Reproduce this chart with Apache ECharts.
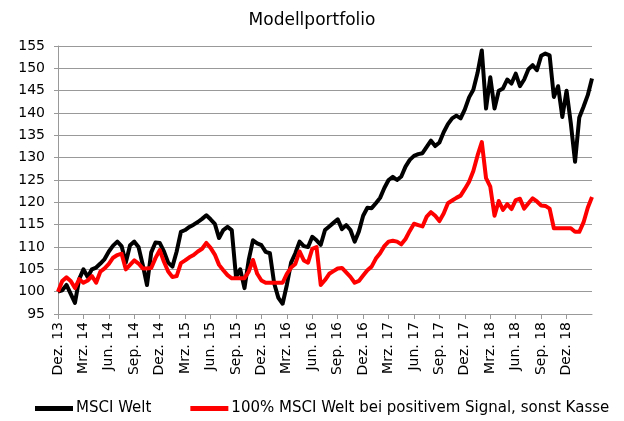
<!DOCTYPE html>
<html>
<head>
<meta charset="utf-8">
<script src="https://cdn.jsdelivr.net/npm/echarts@6/dist/echarts.min.js"></script>
<style>
  html, body { margin: 0; padding: 0; background: #fff; }
  #chart { width: 624px; height: 421px; }
</style>
</head>
<body>
<div id="chart"></div>
<script>
// quarter tick labels, one every 6 half-month points
const quarterLabels = ['Dez. 13', 'Mrz. 14', 'Jun. 14', 'Sep. 14', 'Dez. 14', 'Mrz. 15', 'Jun. 15', 'Sep. 15',
    'Dez. 15', 'Mrz. 16', 'Jun. 16', 'Sep. 16', 'Dez. 16', 'Mrz. 17', 'Jun. 17', 'Sep. 17',
    'Dez. 17', 'Mrz. 18', 'Jun. 18', 'Sep. 18', 'Dez. 18'];

// half-month values, Dez. 13 .. Mrz. 19
const msciWelt = [
    100, 100.3, 101.5, 99.5, 97.5, 102.8, 105, 103.3, 105, 105.4,
    106.3, 107.3, 109, 110.3, 111.2, 110.2, 106.5, 110.4, 111.2, 110,
    106, 101.5, 108.8, 111, 110.9, 109, 106.5, 105.6, 109, 113.4,
    113.8, 114.5, 115, 115.6, 116.3, 117.1, 116.2, 115.2, 112, 113.8,
    114.5, 113.8, 103.3, 105, 100.8, 107.1, 111.5, 110.8, 110.4, 108.9,
    108.6, 101.9, 98.6, 97.3, 101.5, 106.5, 108.6, 111.2, 110.2, 110,
    112.3, 111.5, 110.5, 113.8, 114.6, 115.4, 116.2, 114, 114.9, 113.8,
    111.2, 113.5, 117, 118.8, 118.7, 119.8, 121, 123.2, 125, 125.7,
    125, 125.8, 128, 129.5, 130.4, 130.8, 131, 132.4, 133.8, 132.6,
    133.4, 135.7, 137.5, 138.8, 139.4, 138.8, 140.8, 143.5, 145.2, 149,
    154, 141, 148, 141, 145, 145.5, 147.5, 146.6, 148.8, 146,
    147.5, 149.8, 150.7, 149.6, 152.8, 153.3, 152.9, 143.6, 146, 139.1,
    145, 137.7, 129.1, 139, 141.4, 144, 147.7
];
const msciSignal = [
    100, 102.4, 103.2, 102.4, 100.8, 102.8, 102, 102.5, 103.5, 102,
    104.5, 105.2, 106.2, 107.6, 108.2, 108.5, 105, 106, 107, 106.3,
    105.2, 105.2, 105.3, 107.5, 109.3, 106.7, 104.5, 103.3, 103.5, 106.4,
    107, 107.7, 108.2, 109, 109.6, 110.9, 109.8, 108.3, 106, 104.8,
    103.7, 103, 103, 103, 103, 104.5, 107.1, 104, 102.5, 102,
    102, 102, 102, 102, 104, 105.4, 106.2, 109, 107, 106.5,
    109.6, 110, 101.5, 102.6, 104, 104.6, 105.2, 105.3, 104.3, 103.3,
    102, 102.4, 103.6, 104.8, 105.6, 107.4, 108.6, 110.2, 111.2, 111.4,
    111.2, 110.6, 111.8, 113.6, 115.2, 114.9, 114.6, 116.8, 117.8, 117,
    115.8, 117.5, 119.8, 120.4, 121, 121.5, 123, 124.6, 127, 130.5,
    133.5, 125.4, 123.5, 117, 120.3, 118.3, 119.6, 118.5, 120.5, 120.8,
    118.6, 119.8, 120.9, 120.2, 119.3, 119.2, 118.6, 114.2, 114.2, 114.2,
    114.2, 114.2, 113.4, 113.4, 115.5, 118.8, 121.2
];

const categories = msciWelt.map((v, i) => String(i));
const isQuarter = (i) => i % 6 === 0 && i / 6 < quarterLabels.length;

const chart = echarts.init(document.getElementById('chart'));
const font = 'DejaVu Sans';

chart.setOption({
    animation: false,
    title: {
        text: 'Modellportfolio',
        left: 'center',
        top: 7,
        textStyle: { fontFamily: font, fontSize: 17, fontWeight: 'normal', color: '#000' }
    },
    legend: {
        bottom: 0,
        left: 30,
        icon: 'rect',
        itemWidth: 38,
        itemHeight: 5,
        itemGap: 39,
        textStyle: { fontFamily: font, fontSize: 15, color: '#000', padding: [0, 0, 0, -2] },
        data: ['MSCI Welt', '100% MSCI Welt bei positivem Signal, sonst Kasse']
    },
    grid: { left: 58, right: 32, top: 46, bottom: 107 },
    xAxis: {
        type: 'category',
        data: categories,
        boundaryGap: false,
        axisLine: { lineStyle: { color: '#999', width: 1 } },
        axisTick: { show: true, interval: (i) => isQuarter(i), length: 5, lineStyle: { color: '#999' } },
        axisLabel: {
            interval: (i) => isQuarter(i),
            formatter: (v, i) => isQuarter(i) ? quarterLabels[i / 6] : '',
            rotate: 90,
            margin: 8,
            fontFamily: font,
            fontSize: 14,
            color: '#000'
        },
        splitLine: { show: false }
    },
    yAxis: {
        type: 'value',
        min: 95,
        max: 155,
        interval: 5,
        axisLine: { show: true, lineStyle: { color: '#999', width: 1 } },
        axisTick: { show: true, length: 4, lineStyle: { color: '#999' } },
        axisLabel: { margin: 13, fontFamily: font, fontSize: 14, color: '#000' },
        splitLine: { lineStyle: { color: '#999', width: 1 } }
    },
    series: [
        {
            name: 'MSCI Welt',
            type: 'line',
            data: msciWelt,
            symbol: 'none',
            lineStyle: { color: '#000', width: 4, join: 'round' },
            itemStyle: { color: '#000' }
        },
        {
            name: '100% MSCI Welt bei positivem Signal, sonst Kasse',
            type: 'line',
            data: msciSignal,
            symbol: 'none',
            lineStyle: { color: '#ff0000', width: 4, join: 'round' },
            itemStyle: { color: '#ff0000' }
        }
    ]
});
</script>
</body>
</html>
